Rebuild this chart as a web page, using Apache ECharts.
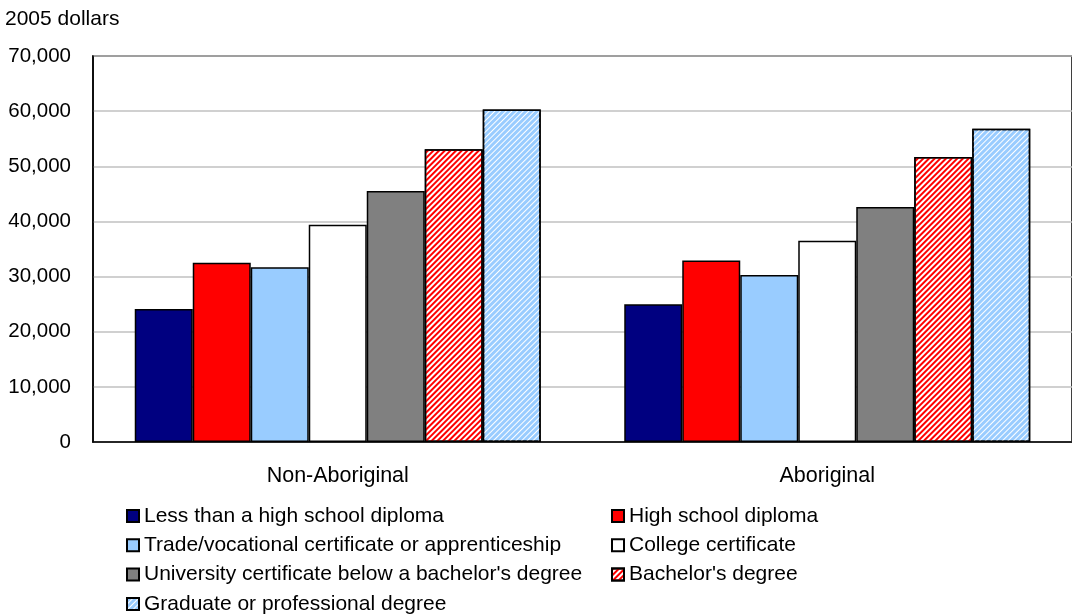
<!DOCTYPE html>
<html>
<head>
<meta charset="utf-8">
<script src="https://cdn.jsdelivr.net/npm/echarts@6/dist/echarts.min.js"></script>
<style>
html,body{margin:0;padding:0;background:#fff;}
#chart{width:1072px;height:615px;}
</style>
</head>
<body>
<div id="chart"></div>
<script>
// ---- data ----
const categories = ['Non-Aboriginal', 'Aboriginal'];
const seriesNames = [
  'Less than a high school diploma',
  'High school diploma',
  'Trade/vocational certificate or apprenticeship',
  'College certificate',
  "University certificate below a bachelor's degree",
  "Bachelor's degree",
  'Graduate or professional degree'
];
const lessThanHighSchool = [24100, 25000];
const highSchool = [32500, 32900];
const tradeVocational = [31700, 30300];
const collegeCert = [39400, 36500];
const univBelowBachelor = [45500, 42600];
const bachelors = [53100, 51700];
const graduate = [60300, 56800];
const yAxisTitle = '2005 dollars';
const yMin = 0, yMax = 70000, yStep = 10000;

// ---- styles ----
const fills = ['#000080', '#FF0000', '#99CCFF', '#FFFFFF', '#808080', '#FFFFFF', '#99CCFF'];
const decals = [null, null, null, null, null,
  { symbol: 'rect', symbolSize: 1, color: '#FF0000', dashArrayX: [1, 0], dashArrayY: [2, 2], rotation: -Math.PI / 4 },
  { symbol: 'rect', symbolSize: 1, color: '#FFFFFF', dashArrayX: [1, 0], dashArrayY: [1, 2.5], rotation: -Math.PI / 4 }
];
const values = [lessThanHighSchool, highSchool, tradeVocational, collegeCert, univBelowBachelor, bachelors, graduate];

const series = seriesNames.map((name, i) => {
  const itemStyle = { color: fills[i], borderColor: '#000', borderWidth: 1.5 };
  if (decals[i]) itemStyle.decal = decals[i];
  return {
    name: name,
    type: 'bar',
    data: values[i],
    barWidth: 58,
    barGap: '0%',
    itemStyle: itemStyle,
    emphasis: { disabled: true }
  };
});

const fontFamily = 'Liberation Sans, Arial, sans-serif';
const legendCommon = {
  orient: 'vertical',
  itemWidth: 12,
  itemHeight: 12,
  itemGap: 8.3,
  padding: 0,
  height: 160,
  icon: 'rect',
  textStyle: { fontFamily: fontFamily, fontSize: 21, color: '#000', lineHeight: 21 },
  selectedMode: false
};

const chart = echarts.init(document.getElementById('chart'), null, { renderer: 'canvas' });
chart.setOption({
  animation: false,
  backgroundColor: '#fff',
  title: {
    text: yAxisTitle,
    left: 5,
    top: 9,
    padding: 0,
    textStyle: { fontFamily: fontFamily, fontSize: 21, fontWeight: 'normal', color: '#000' }
  },
  grid: {
    left: 93, top: 56, width: 986, height: 386,
    show: true, borderColor: '#000', borderWidth: 1.5, backgroundColor: 'transparent'
  },
  legend: [
    Object.assign({}, legendCommon, { left: 126, top: 505.5, data: [seriesNames[0], seriesNames[2], seriesNames[4], seriesNames[6]] }),
    Object.assign({}, legendCommon, { left: 611, top: 505.5, data: [seriesNames[1], seriesNames[3], seriesNames[5]] })
  ],
  xAxis: {
    type: 'category',
    data: categories,
    axisTick: { show: false },
    axisLine: { show: true, lineStyle: { color: '#000', width: 1.5 } },
    axisLabel: { margin: 23, fontFamily: fontFamily, fontSize: 21.5, color: '#000' }
  },
  yAxis: {
    type: 'value',
    min: yMin, max: yMax, interval: yStep,
    axisTick: { show: false },
    axisLine: { show: true, lineStyle: { color: '#000', width: 1.5 } },
    splitLine: { lineStyle: { color: '#C0C0C0', width: 1.5 } },
    axisLabel: {
      margin: 22, fontFamily: fontFamily, fontSize: 20.5, color: '#000',
      formatter: v => v.toLocaleString('en-US')
    }
  },
  series: series
});
</script>
</body>
</html>
